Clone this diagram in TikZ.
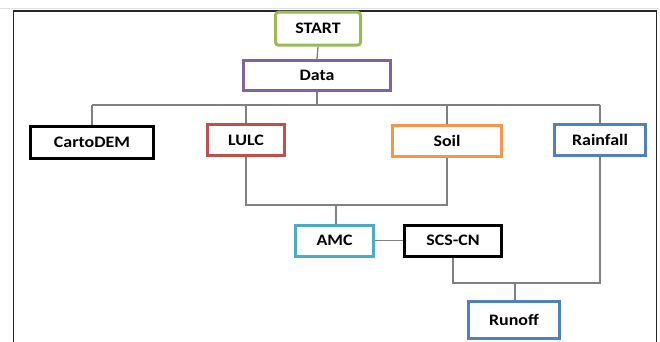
\documentclass[tikz,border=0pt]{standalone}
\usepackage{fontspec}
\setmainfont{Carlito}[FakeStretch=1.12]
\definecolor{cgreen}{HTML}{9BBB59}
\definecolor{cpurple}{HTML}{8064A2}
\definecolor{cred}{HTML}{C0504D}
\definecolor{corange}{HTML}{F79646}
\definecolor{cblue}{HTML}{4F81BD}
\definecolor{ccyan}{HTML}{4BACC6}
\definecolor{cline}{HTML}{808080}
\begin{document}
\begin{tikzpicture}[x=1pt,y=-1pt,
  boxstyle/.style={draw, line width=3pt, fill=white, inner sep=0pt,
    font=\bfseries\fontsize{16}{19}\selectfont, text=black},
  conn/.style={draw=cline, line width=1.3pt}]
\useasboundingbox (0,0) rectangle (660,342);
\fill[white] (0,0) rectangle (660,342);
% frame
\draw[black!12, line width=1pt] (0,9) -- (660,9);
\draw[black!85, line width=1.4pt] (13.5,345) -- (13.5,11) -- (656.5,11) -- (656.5,345);
% nodes
\node[boxstyle, draw=cgreen, rounded corners=3pt, minimum width=85pt, minimum height=33pt] (start) at (318,28.7) {START};
\node[boxstyle, draw=cpurple, minimum width=147pt, minimum height=30pt] (data) at (317,75.5) {Data};
\node[boxstyle, draw=black, minimum width=123pt, minimum height=32pt] (carto) at (92,142.5) {CartoDEM};
\node[boxstyle, draw=cred, minimum width=77pt, minimum height=31pt] (lulc) at (246,140) {LULC};
\node[boxstyle, draw=corange, minimum width=109pt, minimum height=31pt] (soil) at (447,141) {Soil};
\node[boxstyle, draw=cblue, minimum width=91pt, minimum height=31pt] (rain) at (600,140) {Rainfall};
\node[boxstyle, draw=ccyan, minimum width=78pt, minimum height=31pt] (amc) at (334.5,240.5) {AMC};
\node[boxstyle, draw=black, minimum width=97pt, minimum height=31pt] (scs) at (453,240.5) {SCS-CN};
\node[boxstyle, draw=cblue, minimum width=91pt, minimum height=37pt] (runoff) at (514,320) {Runoff};
% junction coordinates
\coordinate (busL) at (92,105);
\coordinate (busR) at (600,105);
\coordinate (busD) at (317,105);
\coordinate (lsL) at (246,205);
\coordinate (lsR) at (447,205);
\coordinate (lsM) at (336,205);
\coordinate (srL) at (453,283);
\coordinate (srR) at (600,283);
\coordinate (srM) at (515,283);
% connectors
\draw[conn] (start.south) -- (data.north);
\draw[conn] (data.south) -- (busD);
\draw[conn] (busL) -- (busR);
\draw[conn] (busL) -- (carto.north);
\draw[conn] (lulc.north |- busL) -- (lulc.north);
\draw[conn] (soil.north |- busL) -- (soil.north);
\draw[conn] (busR) -- (rain.north);
\draw[conn] (lulc.south) -- (lsL) -- (lsR) -- (soil.south);
\draw[conn] (lsM) -- (lsM |- amc.north);
\draw[conn] (amc.east) -- (scs.west);
\draw[conn] (scs.south) -- (srL) -- (srR) -- (rain.south);
\draw[conn] (srM) -- (srM |- runoff.north);
\end{tikzpicture}
\end{document}
